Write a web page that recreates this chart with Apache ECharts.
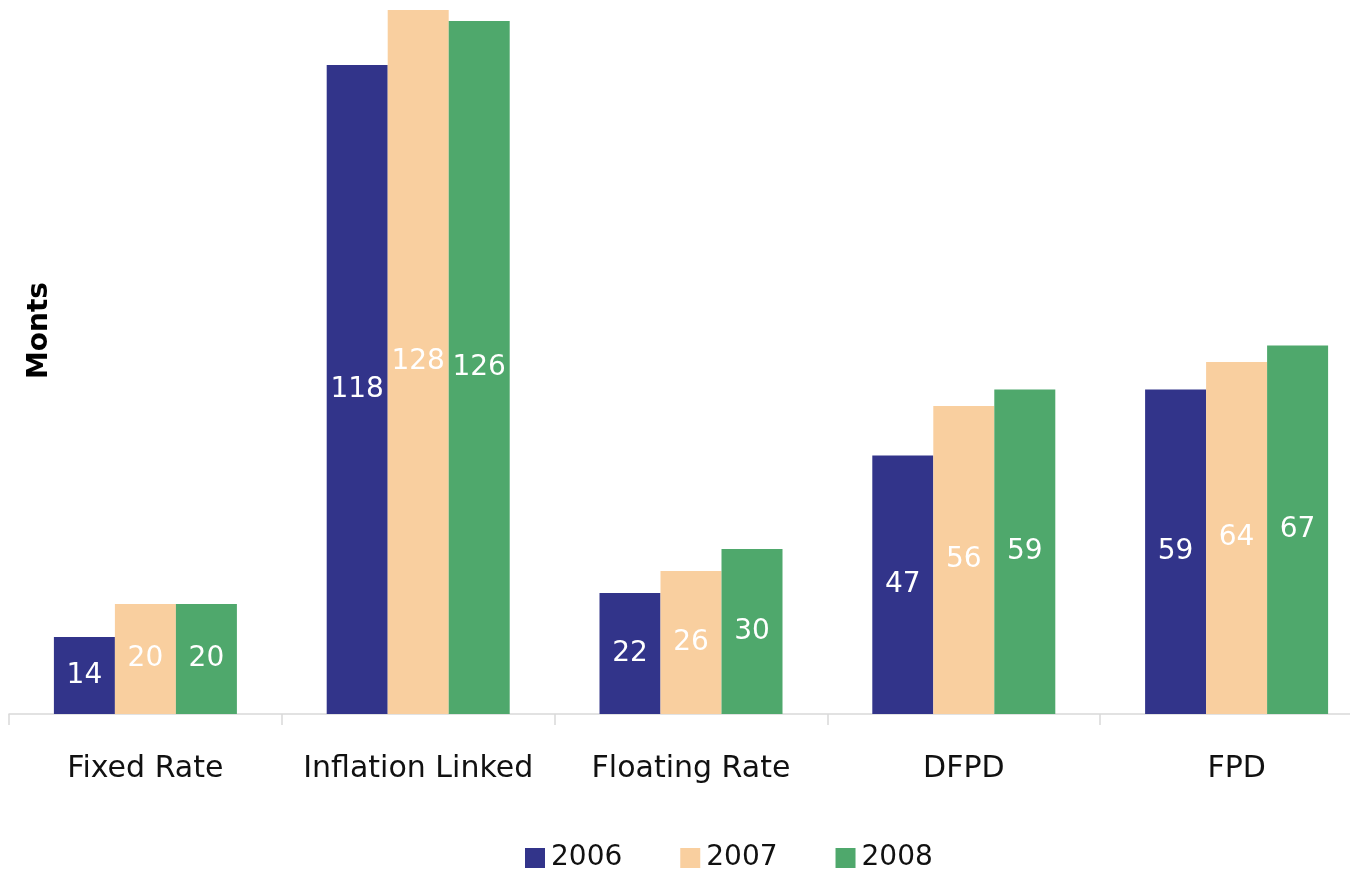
<!DOCTYPE html>
<html>
<head>
<meta charset="utf-8">
<style>
  html, body { margin: 0; padding: 0; background: #ffffff; }
  #chart { width: 1350px; height: 869px; }
</style>
<script src="https://cdn.jsdelivr.net/npm/echarts@6/dist/echarts.min.js"></script>
</head>
<body>
<div id="chart"></div>
<script>
const categories = ['Fixed Rate', 'Inflation Linked', 'Floating Rate', 'DFPD', 'FPD'];
const years = ['2006', '2007', '2008'];
const values2006 = [14, 118, 22, 47, 59];
const values2007 = [20, 128, 26, 56, 64];
const values2008 = [20, 126, 30, 59, 67];
const colors = ['#32348a', '#f9cf9f', '#4fa86c'];
const FONT = '"DejaVu Sans", Verdana, sans-serif';

const seriesData = [values2006, values2007, values2008];

const chart = echarts.init(document.getElementById('chart'), null, { renderer: 'canvas' });

chart.setOption({
  animation: false,
  backgroundColor: '#ffffff',
  grid: { left: 9, top: 10, bottom: 155, width: 1364, containLabel: false, outerBoundsMode: 'none' },
  legend: {
    bottom: -8,
    left: 520,
    itemWidth: 20,
    itemHeight: 20,
    itemGap: 58,
    icon: 'rect',
    textStyle: { fontFamily: FONT, fontSize: 28, color: '#111111', padding: [0, 0, 0, 1] },
    data: years
  },
  xAxis: {
    type: 'category',
    data: categories,
    axisLine: { lineStyle: { color: '#d9d9d9', width: 1.5 } },
    axisTick: { show: true, interval: 0, length: 11, lineStyle: { color: '#d9d9d9', width: 1.5 } },
    axisLabel: { interval: 0, hideOverlap: false, margin: 40, fontFamily: FONT, fontSize: 30, color: '#111111' }
  },
  yAxis: {
    type: 'value',
    min: 0,
    max: 128,
    show: false
  },
  graphic: [{
    type: 'text',
    left: 26,
    top: 282,
    rotation: Math.PI / 2,
    originX: 0,
    originY: 0,
    style: {
      text: 'Monts',
      font: 'bold 28px ' + FONT,
      fill: '#000000',
      x: 0,
      y: 0
    }
  }],
  series: years.map((y, i) => ({
    name: y,
    type: 'bar',
    data: seriesData[i],
    barWidth: 61,
    barGap: '0%',
    itemStyle: { color: colors[i] },
    label: {
      show: true,
      position: 'inside',
      color: '#ffffff',
      fontFamily: FONT,
      fontSize: 28
    }
  }))
});
</script>
</body>
</html>
